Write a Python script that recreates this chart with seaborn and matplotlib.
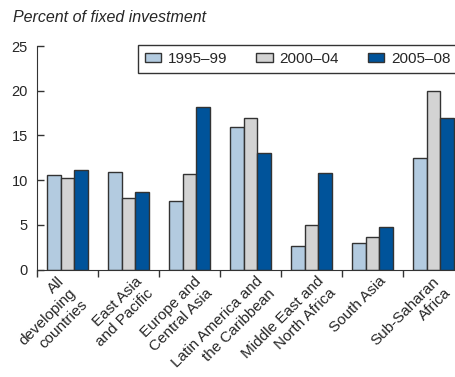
import pandas as pd
import matplotlib
matplotlib.use("Agg")
import matplotlib.pyplot as plt
import seaborn as sns

regions = ["All\ndeveloping\ncountries", "East Asia\nand Pacific", "Europe and\nCentral Asia",
           "Latin America and\nthe Caribbean", "Middle East and\nNorth Africa", "South Asia",
           "Sub-Saharan\nAfrica"]
periods = ["1995\u201399", "2000\u201304", "2005\u201308"]
v_1995_99 = [10.6, 10.9, 7.7, 15.9, 2.7, 2.95, 12.45]
v_2000_04 = [10.25, 8.0, 10.75, 17.0, 5.05, 3.6, 20.0]
v_2005_08 = [11.15, 8.7, 18.15, 13.0, 10.8, 4.75, 17.0]

rows = []
for p, vals in zip(periods, [v_1995_99, v_2000_04, v_2005_08]):
    for r, v in zip(regions, vals):
        rows.append({"region": r, "period": p, "value": v})
df = pd.DataFrame(rows)

colors = ["#b3cbe0", "#d3d3d3", "#00539a"]
dark = "#333333"

sns.set_style("ticks")
plt.rcParams["font.family"] = ["Liberation Sans", "DejaVu Sans"]

fig = plt.figure(figsize=(4.56, 3.77), dpi=100)
ax = fig.add_axes([37 / 456, 1 - 269.7 / 377, 427 / 456, (269.7 - 46) / 377])

sns.barplot(data=df, x="region", y="value", hue="period", palette=colors,
            width=0.67, edgecolor=dark, linewidth=1.0, saturation=1, ax=ax)

ax.set_ylim(0, 25)
ax.set_xlim(-0.5, 6.5)
ax.set_yticks([0, 5, 10, 15, 20, 25])
ax.set_xticks([i - 0.5 for i in range(8)])
ax.set_xticklabels([])

# label nudges (fraction of a category) so rotated labels sit like the original
label_dx = [-0.17, 0.1, 0.07, 0.09, 0.09, 0.1, -0.02]
for i, lab in enumerate(regions):
    ax.text(i + label_dx[i], -0.5, lab, rotation=45, rotation_mode="anchor", ha="right", va="top",
            multialignment="right", fontsize=11, linespacing=1.25)
ax.tick_params(axis="y", direction="in", length=5, width=1, color=dark, labelsize=10.5, pad=6.5)
ax.tick_params(axis="x", direction="out", length=5, width=1, color=dark)
ax.set_xlabel("")
ax.set_ylabel("")
sns.despine(ax=ax, top=True, right=True)
for s in ["left", "bottom"]:
    ax.spines[s].set_color(dark)

leg = ax.legend(ncol=3, loc="upper left", bbox_to_anchor=((138 - 37) / 427, 1.005),
                frameon=True, fancybox=False, edgecolor=dark, fontsize=11,
                handlelength=1.05, handleheight=0.6, columnspacing=1.9, handletextpad=0.46,
                borderpad=0.45, borderaxespad=0, title=None)
leg.get_frame().set_linewidth(1.0)
leg.get_frame().set_alpha(1)

fig.text(13 / 456, 1 - 18 / 377, "Percent of fixed investment", style="italic", fontsize=11.5,
         va="center", ha="left")

fig.savefig("out.png", dpi=100)
